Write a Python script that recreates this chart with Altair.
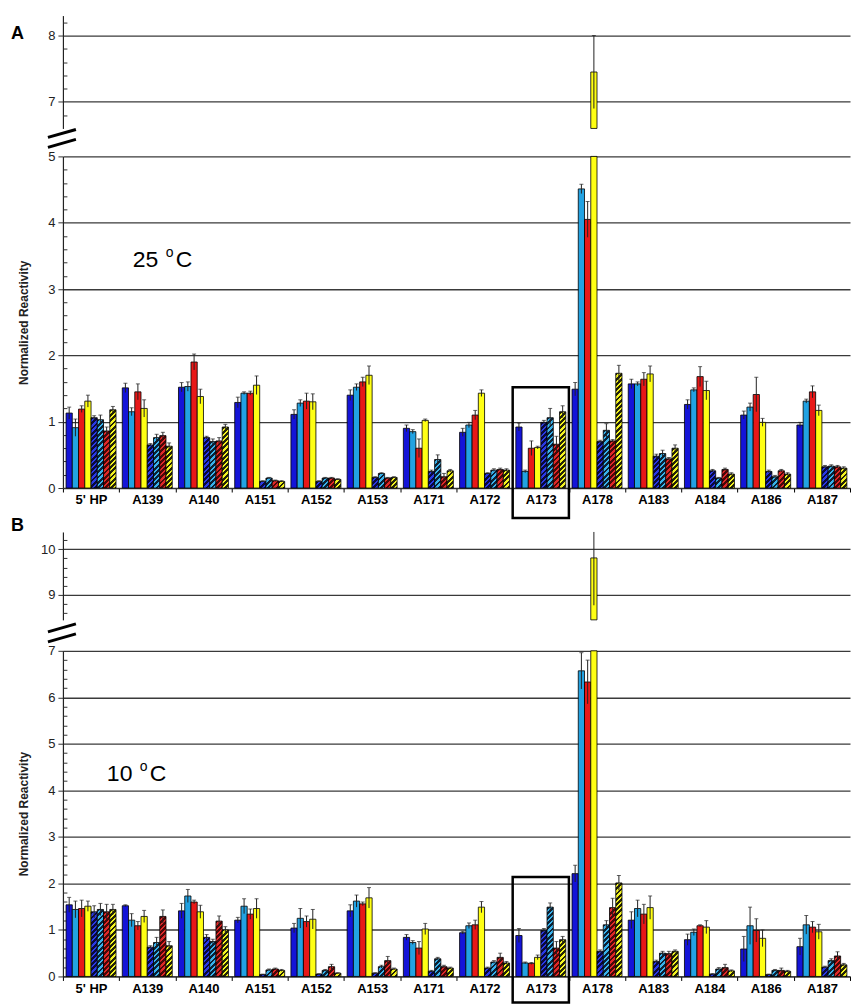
import altair as alt
import pandas as pd

FONT = "Liberation Sans"

cats = ["5' HP", "A139", "A140", "A151", "A152", "A153", "A171", "A172",
        "A173", "A178", "A183", "A184", "A186", "A187"]
series = ["blue", "cyan", "red", "yellow", "blue_h", "cyan_h", "red_h", "yellow_h"]
solid = series[:4]
hatched = series[4:]
solid_colors = ["#1414d8", "#22a2e2", "#e81818", "#ffff14"]
hatch_dark = ["#0a0a3c", "#0c2236", "#4a0808", "#242408"]
hatch_light = ["#2a3ae6", "#38b2ec", "#e02828", "#f4f420"]

# ---- Panel A (25 C) ----
A_blue = [1.13, 1.51, 1.52, 1.29, 1.11, 1.40, 0.90, 0.84, 0.92, 1.49, 1.57, 1.26, 1.10, 0.95]
A_blue_err = [0.09, 0.07, 0.07, 0.08, 0.07, 0.08, 0.05, 0.06, 0.06, 0.10, 0.07, 0.07, 0.06, 0.04]
A_cyan = [0.91, 1.15, 1.53, 1.43, 1.28, 1.52, 0.85, 0.95, 0.25, 4.51, 1.57, 1.48, 1.22, 1.31]
A_cyan_err = [0.13, 0.06, 0.07, 0.02, 0.05, 0.05, 0.03, 0.04, 0.02, 0.07, 0.03, 0.03, 0.06, 0.03]
A_red = [1.19, 1.45, 1.90, 1.43, 1.31, 1.60, 0.60, 1.10, 0.60, 4.05, 1.64, 1.68, 1.41, 1.45]
A_red_err = [0.05, 0.12, 0.12, 0.03, 0.12, 0.07, 0.14, 0.07, 0.11, 0.27, 0.10, 0.15, 0.26, 0.09]
A_yellow = [1.31, 1.20, 1.38, 1.55, 1.30, 1.70, 1.02, 1.43, 0.61, 7.45, 1.72, 1.47, 0.99, 1.17]
A_yellow_err = [0.09, 0.13, 0.11, 0.14, 0.12, 0.14, 0.02, 0.05, 0.02, 0.55, 0.12, 0.14, 0.06, 0.08]
A_blue_h = [1.06, 0.65, 0.76, 0.10, 0.10, 0.16, 0.25, 0.22, 0.99, 0.70, 0.48, 0.26, 0.25, 0.32]
A_blue_h_err = [0.03, 0.02, 0.02, 0.01, 0.01, 0.01, 0.02, 0.01, 0.03, 0.02, 0.03, 0.02, 0.02, 0.02]
A_cyan_h = [1.03, 0.76, 0.70, 0.15, 0.15, 0.22, 0.43, 0.27, 1.06, 0.87, 0.52, 0.15, 0.17, 0.33]
A_cyan_h_err = [0.07, 0.05, 0.04, 0.01, 0.01, 0.01, 0.07, 0.02, 0.14, 0.10, 0.05, 0.01, 0.02, 0.02]
A_red_h = [0.86, 0.79, 0.71, 0.11, 0.15, 0.15, 0.17, 0.28, 0.66, 0.71, 0.44, 0.28, 0.26, 0.32]
A_red_h_err = [0.06, 0.05, 0.05, 0.01, 0.01, 0.01, 0.05, 0.02, 0.12, 0.02, 0.02, 0.02, 0.02, 0.02]
A_yellow_h = [1.18, 0.63, 0.92, 0.10, 0.13, 0.16, 0.26, 0.27, 1.15, 1.73, 0.60, 0.21, 0.21, 0.30]
A_yellow_h_err = [0.05, 0.05, 0.04, 0.01, 0.01, 0.01, 0.02, 0.02, 0.09, 0.12, 0.05, 0.02, 0.02, 0.02]

# ---- Panel B (10 C) ----
B_blue = [1.54, 1.52, 1.41, 1.21, 1.04, 1.41, 0.84, 0.94, 0.88, 2.21, 1.21, 0.79, 0.59, 0.64]
B_blue_err = [0.16, 0.02, 0.16, 0.06, 0.10, 0.13, 0.06, 0.03, 0.15, 0.18, 0.18, 0.12, 0.27, 0.18]
B_cyan = [1.44, 1.21, 1.73, 1.51, 1.25, 1.62, 0.73, 1.09, 0.29, 6.57, 1.46, 0.95, 1.09, 1.11]
B_cyan_err = [0.18, 0.14, 0.14, 0.16, 0.21, 0.13, 0.04, 0.06, 0.02, 0.39, 0.18, 0.07, 0.40, 0.20]
B_red = [1.46, 1.09, 1.60, 1.34, 1.18, 1.56, 0.61, 1.11, 0.28, 6.33, 1.34, 1.09, 0.99, 1.06]
B_red_err = [0.18, 0.09, 0.04, 0.11, 0.12, 0.04, 0.14, 0.10, 0.02, 0.47, 0.21, 0.02, 0.25, 0.12]
B_yellow = [1.51, 1.29, 1.39, 1.46, 1.23, 1.69, 1.02, 1.49, 0.41, 9.81, 1.48, 1.06, 0.82, 0.96]
B_yellow_err = [0.11, 0.13, 0.14, 0.21, 0.21, 0.22, 0.12, 0.12, 0.05, 1.04, 0.25, 0.14, 0.18, 0.16]
B_blue_h = [1.39, 0.63, 0.84, 0.04, 0.05, 0.07, 0.11, 0.18, 0.99, 0.54, 0.32, 0.05, 0.04, 0.20]
B_blue_h_err = [0.13, 0.03, 0.06, 0.01, 0.01, 0.01, 0.02, 0.02, 0.04, 0.03, 0.03, 0.01, 0.01, 0.02]
B_cyan_h = [1.44, 0.73, 0.75, 0.14, 0.13, 0.21, 0.38, 0.31, 1.49, 1.11, 0.50, 0.16, 0.13, 0.34]
B_cyan_h_err = [0.13, 0.11, 0.05, 0.02, 0.02, 0.03, 0.03, 0.03, 0.09, 0.09, 0.04, 0.03, 0.02, 0.04]
B_red_h = [1.39, 1.29, 1.19, 0.16, 0.21, 0.34, 0.21, 0.41, 0.61, 1.48, 0.49, 0.19, 0.13, 0.44]
B_red_h_err = [0.16, 0.14, 0.11, 0.02, 0.05, 0.09, 0.03, 0.09, 0.14, 0.20, 0.05, 0.07, 0.05, 0.09]
B_yellow_h = [1.44, 0.66, 1.00, 0.13, 0.07, 0.16, 0.18, 0.29, 0.79, 2.01, 0.54, 0.12, 0.11, 0.25]
B_yellow_h_err = [0.11, 0.09, 0.07, 0.02, 0.01, 0.02, 0.02, 0.03, 0.07, 0.16, 0.03, 0.02, 0.02, 0.03]

A_vals = dict(zip(series, [A_blue, A_cyan, A_red, A_yellow, A_blue_h, A_cyan_h, A_red_h, A_yellow_h]))
A_errs = dict(zip(series, [A_blue_err, A_cyan_err, A_red_err, A_yellow_err,
                           A_blue_h_err, A_cyan_h_err, A_red_h_err, A_yellow_h_err]))
B_vals = dict(zip(series, [B_blue, B_cyan, B_red, B_yellow, B_blue_h, B_cyan_h, B_red_h, B_yellow_h]))
B_errs = dict(zip(series, [B_blue_err, B_cyan_err, B_red_err, B_yellow_err,
                           B_blue_h_err, B_cyan_h_err, B_red_h_err, B_yellow_h_err]))

W = 788
STEP = W / len(cats)
BAR_W = STEP / 9.0


def make_df(vals, errs):
    rows = []
    for s in series:
        for i, c in enumerate(cats):
            rows.append({"cat": c, "s": s, "v": vals[s][i], "e": errs[s][i]})
    df = pd.DataFrame(rows)
    df["bid"] = list(range(len(df)))
    return df


def hatch(h, dark, light, period=5.2, frac=0.45):
    w = BAR_W
    h = max(h, 0.5)
    d = w * w + h * h
    a = w * (w + h) / d
    b = h * (w + h) / d
    n = (w + h) / period
    stops = []
    i = 0
    while True:
        s0 = i / n
        s1 = (i + 1 - frac) / n
        s2 = (i + 1) / n
        stops += [(s0, dark), (min(s1, 1.0), dark)]
        if s1 >= 1:
            break
        stops += [(s1, light), (min(s2, 1.0), light)]
        if s2 >= 1:
            break
        i += 1
    return {"gradient": "linear", "x1": 0, "y1": 0, "x2": round(a, 4), "y2": round(b, 4),
            "stops": [{"offset": round(o, 4), "color": c} for o, c in stops]}


def hatch_fill(df, pxu):
    conds = []
    for _, r in df[df["s"].isin(hatched)].iterrows():
        j = hatched.index(r["s"])
        conds.append({"test": f"datum.bid == {int(r['bid'])}",
                      "value": hatch(r["v"] * pxu, hatch_dark[j], hatch_light[j])})
    return alt.FillValue(value="#000000", condition=conds)


def x_enc(show_axis):
    ax = alt.Axis(title=None, labelFont=FONT, labelFontSize=13, labelFontWeight="bold",
                  labelColor="#000000", tickBand="extent", tickSize=4, tickColor="#000000",
                  domainColor="#333333", domainWidth=1.2, labelPadding=2, labelAngle=0) if show_axis else None
    return alt.X("cat:N", scale=alt.Scale(domain=cats, paddingInner=0, paddingOuter=0), axis=ax)


x_off = alt.XOffset("s:N", scale=alt.Scale(domain=series, paddingInner=0, paddingOuter=0.5))
fill_solid = alt.Fill("s:N", scale=alt.Scale(domain=solid, range=solid_colors), legend=None)


def text_layer(s, x, y, size, weight="normal"):
    return alt.Chart(pd.DataFrame({"t": [s]})).mark_text(
        text=s, font=FONT, fontSize=size, fontWeight=weight, align="left",
        baseline="alphabetic", color="#000000").encode(x=alt.value(x), y=alt.value(y))


def break_layer(y0):
    d = pd.DataFrame({"k": [0]})
    r1 = alt.Chart(d).mark_rule(strokeWidth=3, color="#000000").encode(
        x=alt.value(-15), x2=alt.value(13), y=alt.value(y0 + 9), y2=alt.value(y0 + 1))
    r2 = alt.Chart(d).mark_rule(strokeWidth=3, color="#000000").encode(
        x=alt.value(-15), x2=alt.value(13), y=alt.value(y0 + 19), y2=alt.value(y0 + 11))
    return [r1, r2]


def left_axis(values, title):
    kw = dict(values=values, grid=True, gridColor="#3a3a3a", gridWidth=1.3, tickSize=5,
              tickColor="#333333", domainColor="#222222", domainWidth=1.2, labelFont=FONT,
              labelFontSize=13, labelColor="#222222", labelPadding=3, labelFlush=False)
    if title:
        kw.update(title=title, titleFont=FONT, titleFontSize=12, titleFontWeight="bold",
                  titleColor="#222222", titlePadding=17)
    else:
        kw.update(title=None)
    return alt.Axis(**kw)


def minor_axis(values):
    return alt.Axis(orient="right", offset=-W, values=values, labels=False, tickSize=4,
                    tickColor="#333333", domain=False, grid=False, title=None)


def lower_chart(df, dmax, H, gap, pxu, minors, box_top, box_bottom, temp, tx, ty, brk_y):
    ysc = alt.Scale(domain=[0, dmax], range=[H, gap], clamp=True, nice=False, zero=False)
    base = alt.Chart(df)
    xe = x_enc(True)
    bars = base.transform_filter(alt.FieldOneOfPredicate(field="s", oneOf=solid)).mark_bar(
        stroke="#000000", strokeWidth=0.8).encode(
        x=xe, xOffset=x_off,
        y=alt.Y("v:Q", scale=ysc, axis=left_axis(list(range(dmax + 1)), "Normalized Reactivity")),
        fill=fill_solid)
    hbars = base.transform_filter(alt.FieldOneOfPredicate(field="s", oneOf=hatched)).mark_bar(
        stroke="#000000", strokeWidth=0.8).encode(
        x=xe, xOffset=x_off, y=alt.Y("v:Q", scale=ysc, axis=None), fill=hatch_fill(df, pxu))
    eb = base.transform_calculate(lo="datum.v - datum.e", hi="datum.v + datum.e")
    err = eb.transform_filter(f"datum.lo < {dmax}").mark_rule(color="#222222", strokeWidth=1).encode(
        x=xe, xOffset=x_off, y=alt.Y("lo:Q", scale=ysc, axis=minor_axis(minors)), y2="hi:Q")
    caps = eb.transform_filter(f"datum.hi <= {dmax}").mark_tick(
        color="#222222", thickness=1, size=4).encode(
        x=xe, xOffset=x_off, y=alt.Y("hi:Q", scale=ysc, axis=None))
    box = alt.Chart(pd.DataFrame({"cat": ["A173"], "top": [box_top]})).mark_rect(
        filled=False, stroke="#000000", strokeWidth=2.5).encode(
        x=xe, y=alt.Y("top:Q", scale=ysc, axis=None), y2=alt.value(box_bottom))
    t1 = text_layer(temp, tx, ty, 23)
    t2 = text_layer("o", tx + 33, ty - 10, 14)
    t3 = text_layer("C", tx + 43, ty, 23)
    layers = [bars, hbars, err, caps, box, t1, t2, t3] + break_layer(brk_y)
    return alt.layer(*layers).resolve_axis(y="independent").properties(width=W, height=H)


def upper_chart(df, dmin, dmax, H, gap, majors, minors, letter, ly):
    ysc = alt.Scale(domain=[dmin, dmax], range=[H, gap], clamp=True, nice=False, zero=False)
    base = alt.Chart(df)
    xe = x_enc(False)
    bars = base.transform_filter(f"datum.v > {dmin}").mark_bar(
        stroke="#000000", strokeWidth=0.8).encode(
        x=xe, xOffset=x_off, y=alt.Y("v:Q", scale=ysc, axis=left_axis(majors, None)), fill=fill_solid)
    eb = base.transform_calculate(lo="datum.v - datum.e", hi="datum.v + datum.e")
    err = eb.transform_filter(f"datum.hi > {dmin}").mark_rule(color="#222222", strokeWidth=1).encode(
        x=xe, xOffset=x_off, y=alt.Y("lo:Q", scale=ysc, axis=minor_axis(minors)), y2="hi:Q")
    caps = eb.transform_filter(f"datum.hi > {dmin} && datum.hi <= {dmax}").mark_tick(
        color="#222222", thickness=1, size=4).encode(
        x=xe, xOffset=x_off, y=alt.Y("hi:Q", scale=ysc, axis=None))
    lab = text_layer(letter, -52, ly, 18, "bold")
    return alt.layer(bars, err, caps, lab).resolve_axis(y="independent").properties(width=W, height=H)


dfA = make_df(A_vals, A_errs)
dfB = make_df(B_vals, B_errs)

minA_up = [6.8, 7.2, 7.4, 7.6, 7.8, 8.2]
minA_lo = [round(i * 0.2, 1) for i in range(26) if i % 5 != 0]
minB_up = [8.6, 8.8, 9.2, 9.4, 9.6, 9.8, 10.2]
minB_lo = [round(i * 0.2, 1) for i in range(36) if i % 5 != 0]

Au = upper_chart(dfA, 6.6, 8.3, 113, 0, [7, 8], minA_up, "A", 23)
Al = lower_chart(dfA, 5, 360, 28, 66.4, minA_lo, 1.52, 390, "25", 70, 139, 0)
Bu = upper_chart(dfB, 8.45, 10.38, 132, 44, [9, 10], minB_up, "B", 43)
Bl = lower_chart(dfB, 7, 357, 31, 46.57, minB_lo, 2.14, 383, "10", 44, 161, 3)

chart = alt.vconcat(Au, Al, Bu, Bl, spacing=0, bounds="flush").properties(
    padding={"left": 11, "top": 15, "right": 0, "bottom": 0},
    background="#ffffff"
).configure_view(stroke=None)

chart.save("out.html", embed_options={"renderer": "svg", "actions": False})
